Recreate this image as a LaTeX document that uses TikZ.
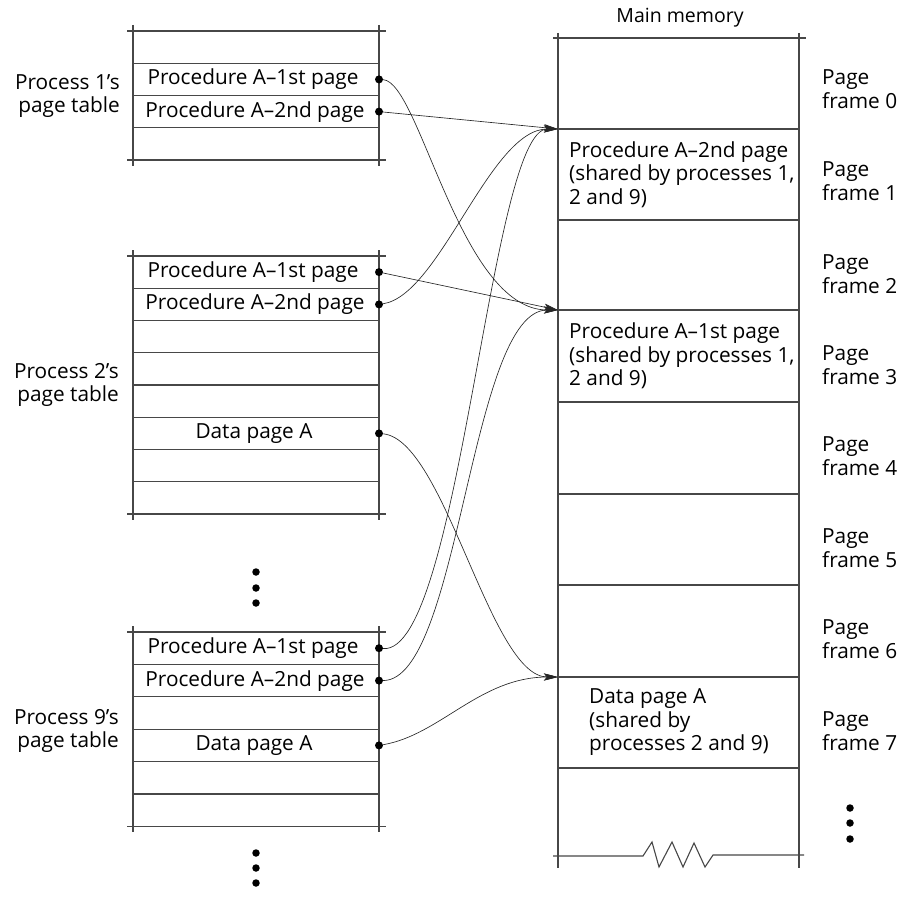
\documentclass[tikz,border=0pt]{standalone}
\usepackage{fontspec}
\setmainfont{Open Sans}
\usetikzlibrary{arrows.meta}
\begin{document}
\begin{tikzpicture}[x=1pt,y=-1pt,
  grid/.style={draw=black!72, line width=1.1pt},
  lbl/.style={font=\fontsize{20.8}{23.5}\selectfont, inner sep=0pt, text=black},
  cell/.style={lbl, anchor=center},
  dotnode/.style={circle, fill=black, inner sep=0pt, minimum size=8pt},
  bigdot/.style={circle, fill=black, inner sep=0pt, minimum size=7.5pt},
  ptr/.style={draw=black!85, line width=0.65pt, -{Stealth[length=14pt,width=7pt,inset=3pt]}}]
\useasboundingbox (0,0) rectangle (910,912);

% ---------- Process 1's page table ----------
\draw[grid] (127,31) -- (386,31);
\draw[grid] (127,160) -- (386,160);
\foreach \y in {63.25,95.5,127.75} \draw[grid] (133,\y) -- (379,\y);
\draw[grid] (133,25) -- (133,166);
\draw[grid] (379,25) -- (379,166);
\node[lbl, align=right, anchor=east] (p1) at (120,96) {Process 1’s\\page table};
\node[cell] (t1a) at (253,79.4) {Procedure A--1st page};
\node[cell] (t1b) at (255,111.6) {Procedure A--2nd page};
\node[dotnode] (d11) at (379,79.4) {};
\node[dotnode] (d12) at (379,111.6) {};

% ---------- Process 2's page table ----------
\draw[grid] (127,256) -- (386,256);
\draw[grid] (127,514) -- (386,514);
\foreach \i in {1,...,7} \draw[grid] (133,256+\i*32.25) -- (379,256+\i*32.25);
\draw[grid] (133,250) -- (133,520);
\draw[grid] (379,250) -- (379,520);
\node[lbl, align=right, anchor=east] (p2) at (119,385) {Process 2’s\\page table};
\node[cell] (t2a) at (253,272.1) {Procedure A--1st page};
\node[cell] (t2b) at (255,304.4) {Procedure A--2nd page};
\node[cell] (t2d) at (254,433.4) {Data page A};
\node[dotnode] (d21) at (379,272.1) {};
\node[dotnode] (d22) at (379,304.4) {};
\node[dotnode] (d2d) at (379,433.4) {};

% ---------- dots between tables ----------
\node[bigdot] (v1) at (256,572) {};
\node[bigdot] (v2) at (256,588) {};
\node[bigdot] (v3) at (256,603) {};

% ---------- Process 9's page table ----------
\draw[grid] (127,632) -- (386,632);
\draw[grid] (127,826.5) -- (386,826.5);
\foreach \i in {1,...,5} \draw[grid] (133,632+\i*32.4) -- (379,632+\i*32.4);
\draw[grid] (133,626) -- (133,832);
\draw[grid] (379,626) -- (379,832);
\node[lbl, align=right, anchor=east] (p9) at (119,731) {Process 9’s\\page table};
\node[cell] (t3a) at (253,648.2) {Procedure A--1st page};
\node[cell] (t3b) at (255,680.6) {Procedure A--2nd page};
\node[cell] (t3d) at (254,745.4) {Data page A};
\node[dotnode] (d31) at (379,648.2) {};
\node[dotnode] (d32) at (379,680.6) {};
\node[dotnode] (d3d) at (379,745.4) {};

% ---------- dots below ----------
\node[bigdot] (w1) at (256,853) {};
\node[bigdot] (w2) at (256,868) {};
\node[bigdot] (w3) at (256,883) {};

% ---------- Main memory ----------
\node[lbl, font=\fontsize{19.5}{23}\selectfont] (mm) at (680,18) {Main memory};
\draw[grid] (553,38) -- (806,38);
\foreach \y in {129,220,310,402,494,585,677,768} \draw[grid] (558,\y) -- (799,\y);
\draw[grid] (558,33) -- (558,868);
\draw[grid] (799,33) -- (799,868);
\draw[grid] (553,856) -- (643,856) -- (652,842) -- (659,867) -- (672,842) -- (683,867) -- (694,843) -- (705,867) -- (713,855) -- (804,855);

\node[lbl, align=left, anchor=west] (f1) at (569,174.5) {Procedure A--2nd page\\(shared by processes 1,\\2 and 9)};
\node[lbl, align=left, anchor=west] (f3) at (569,356) {Procedure A--1st page\\(shared by processes 1,\\2 and 9)};
\node[lbl, align=left, anchor=west] (f7) at (589,722.5) {Data page A\\(shared by\\processes 2 and 9)};

\node[lbl, align=left, anchor=west] (n0) at (822,89) {Page\\frame 0};
\node[lbl, align=left, anchor=west] (n1) at (822,181) {Page\\frame 1};
\node[lbl, align=left, anchor=west] (n2) at (822,274) {Page\\frame 2};
\node[lbl, align=left, anchor=west] (n3) at (822,365) {Page\\frame 3};
\node[lbl, align=left, anchor=west] (n4) at (822,456) {Page\\frame 4};
\node[lbl, align=left, anchor=west] (n5) at (822,548) {Page\\frame 5};
\node[lbl, align=left, anchor=west] (n6) at (822,639) {Page\\frame 6};
\node[lbl, align=left, anchor=west] (n7) at (822,731) {Page\\frame 7};

\node[bigdot] (r1) at (850,808) {};
\node[bigdot] (r2) at (850,823) {};
\node[bigdot] (r3) at (850,839) {};

\coordinate (m1) at (558,129);
\coordinate (m3) at (558,310);
\coordinate (m7) at (558,677);

% ---------- pointers ----------
\draw[ptr] (d11) .. controls (420,82) and (460,310) .. (m3);
\draw[ptr] (d12) -- (m1);
\draw[ptr] (d21) -- (m3);
\draw[ptr] (d22) .. controls (440,295) and (490,129) .. (m1);
\draw[ptr] (d31) .. controls (460,655) and (490,129) .. (m1);
\draw[ptr] (d32) .. controls (460,680) and (470,310) .. (m3);
\draw[ptr] (d2d) .. controls (445,440) and (490,677) .. (m7);
\draw[ptr] (d3d) .. controls (440,735) and (480,677) .. (m7);
\end{tikzpicture}
\end{document}
